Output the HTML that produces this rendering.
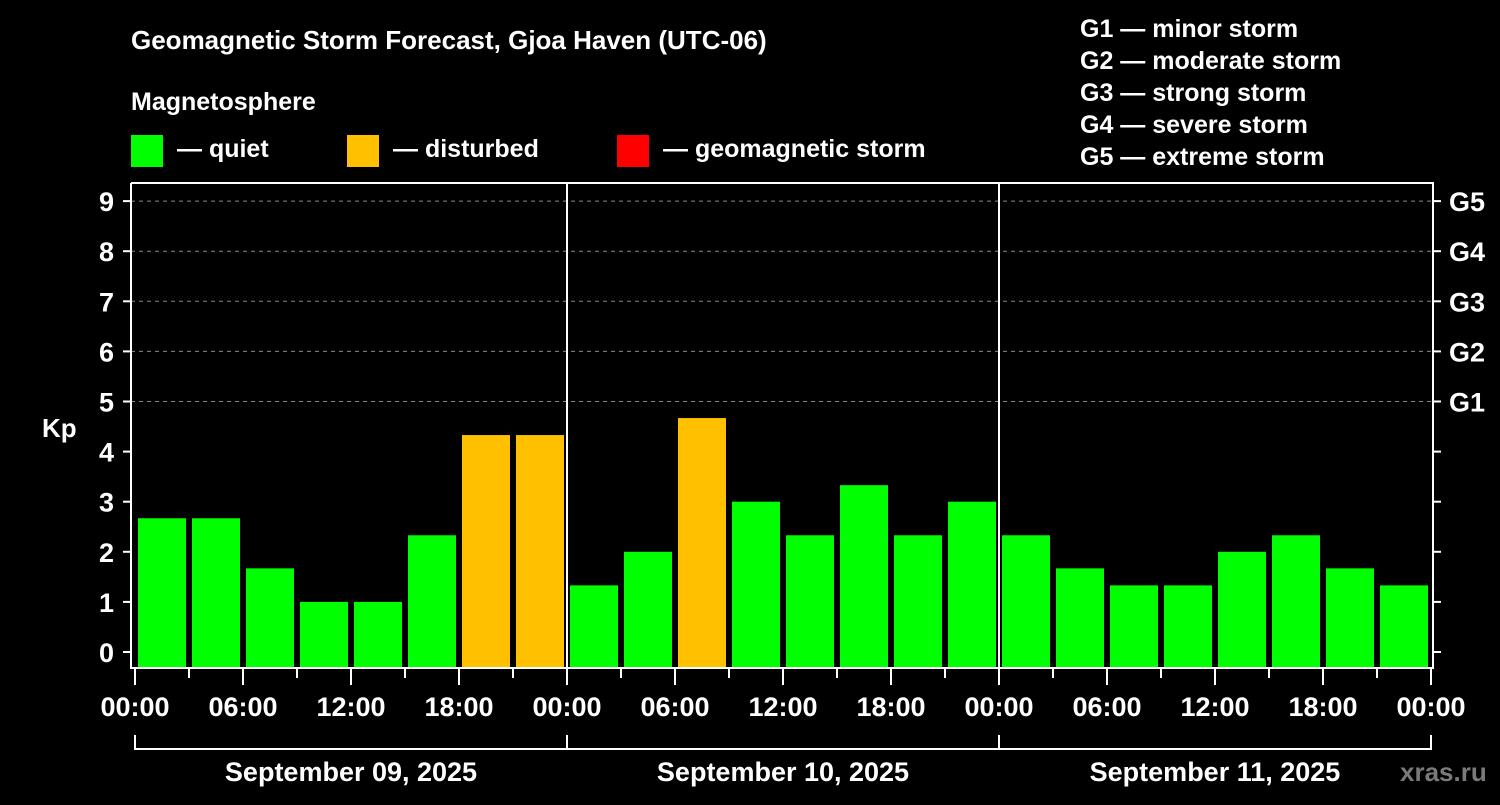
<!DOCTYPE html>
<html><head><meta charset="utf-8"><style>
body{margin:0;background:#000;width:1500px;height:800px;overflow:hidden}
svg text{font-family:"Liberation Sans",Arial,sans-serif;font-weight:bold;fill:#fff}
</style></head><body>
<svg id="chart" width="1500" height="800" viewBox="0 0 1500 800">
<rect width="1500" height="800" fill="#000"/>
<text x="131" y="49" font-size="26">Geomagnetic Storm Forecast, Gjoa Haven (UTC-06)</text>
<text x="131" y="110" font-size="25">Magnetosphere</text>
<g><rect x="131" y="135" width="32" height="32" fill="#00ff00"/><text x="177" y="157" font-size="25">— quiet</text></g>
<g><rect x="347" y="135" width="32" height="32" fill="#ffc000"/><text x="393" y="157" font-size="25">— disturbed</text></g>
<g><rect x="617" y="135" width="32" height="32" fill="#ff0000"/><text x="663" y="157" font-size="25">— geomagnetic storm</text></g>
<g font-size="25">
<text x="1080" y="37">G1 — minor storm</text>
<text x="1080" y="69">G2 — moderate storm</text>
<text x="1080" y="101">G3 — strong storm</text>
<text x="1080" y="133">G4 — severe storm</text>
<text x="1080" y="165">G5 — extreme storm</text>
</g>
<text x="42" y="437" font-size="26">Kp</text>
<g id="grid"></g><g id="bars"></g><g id="axes"></g>
<text x="1400" y="781" font-size="26" fill="#888" style="fill:#7a7a7a">xras.ru</text>
</svg>
<script>
const days = ["September 09, 2025","September 10, 2025","September 11, 2025"];
const kp = [2.67,2.67,1.67,1,1,2.33,4.33,4.33, 1.33,2,4.67,3,2.33,3.33,2.33,3, 2.33,1.67,1.33,1.33,2,2.33,1.67,1.33];
const yTicks = [0,1,2,3,4,5,6,7,8,9];
const gLabels = ["G1","G2","G3","G4","G5"];
const xTickLabels = ["00:00","06:00","12:00","18:00"];
const NS="http://www.w3.org/2000/svg";
const L=131,R=1433,T=183,B=668,X0=135,DAYW=432;
const y=v=>652-v*50.1;
const x=h=>X0+h/72*(DAYW*3);
function mk(tag,attrs,parent,txt){const e=document.createElementNS(NS,tag);for(const k in attrs)e.setAttribute(k,attrs[k]);if(txt!==undefined)e.textContent=txt;document.getElementById(parent).appendChild(e);return e;}
// grid
for(let i=0;i<gLabels.length;i++){const v=5+i;
 const g=mk('line',{x1:L,x2:R,y1:y(v),y2:y(v),stroke:'#888','stroke-dasharray':'4,4','stroke-width':1},'grid');
 
 
 const t=mk('text',{x:1449,y:y(v)+10,'font-size':27},'axes',gLabels[i]);
 
 
}
// bars
kp.forEach((v,i)=>{
 const col=v>=5?'#ff0000':(v>=4?'#ffc000':'#00ff00');
 const r=mk('rect',{x:x(i*3)+3,y:y(v),width:48,height:B-y(v),fill:col},'bars');
 
 
});
// axes frame
const fr=mk('path',{d:`M${L},${T}V${B}H${R}V${T}H${L}`,fill:'none',stroke:'#fff','stroke-width':2},'axes');


for(let d=1;d<days.length;d++){const xx=x(d*24);
 const s=mk('line',{x1:xx,x2:xx,y1:T,y2:B,stroke:'#fff','stroke-width':2},'axes');
 
 
}
yTicks.forEach(v=>{
 const a=mk('line',{x1:123,x2:L,y1:y(v),y2:y(v),stroke:'#fff','stroke-width':2},'axes');
 
 
 const b=mk('line',{x1:R,x2:1441,y1:y(v),y2:y(v),stroke:'#fff','stroke-width':2},'axes');
 
 
 const t=mk('text',{x:114,y:y(v)+10,'font-size':27,'text-anchor':'end'},'axes',String(v));
 
 
});
for(let h=0;h<=72;h+=3){const xx=x(h);const major=h%6===0;
 const tk=mk('line',{x1:xx,x2:xx,y1:B,y2:major?685:678,stroke:'#fff','stroke-width':2},'axes');
 
 
 if(major){const t=mk('text',{x:xx,y:716,'font-size':27,'text-anchor':'middle'},'axes',xTickLabels[(h/6)%4]);
  
  }
}
const br=mk('line',{x1:x(0),x2:x(72),y1:749,y2:749,stroke:'#fff','stroke-width':2},'axes');


for(let d=0;d<=days.length;d++){const bt=mk('line',{x1:x(d*24),x2:x(d*24),y1:735,y2:750,stroke:'#fff','stroke-width':2},'axes');
 
 }
days.forEach((d,i)=>{const t=mk('text',{x:x(i*24+12),y:781,'font-size':27,'text-anchor':'middle'},'axes',d);
 
 });
</script>
</body></html>
